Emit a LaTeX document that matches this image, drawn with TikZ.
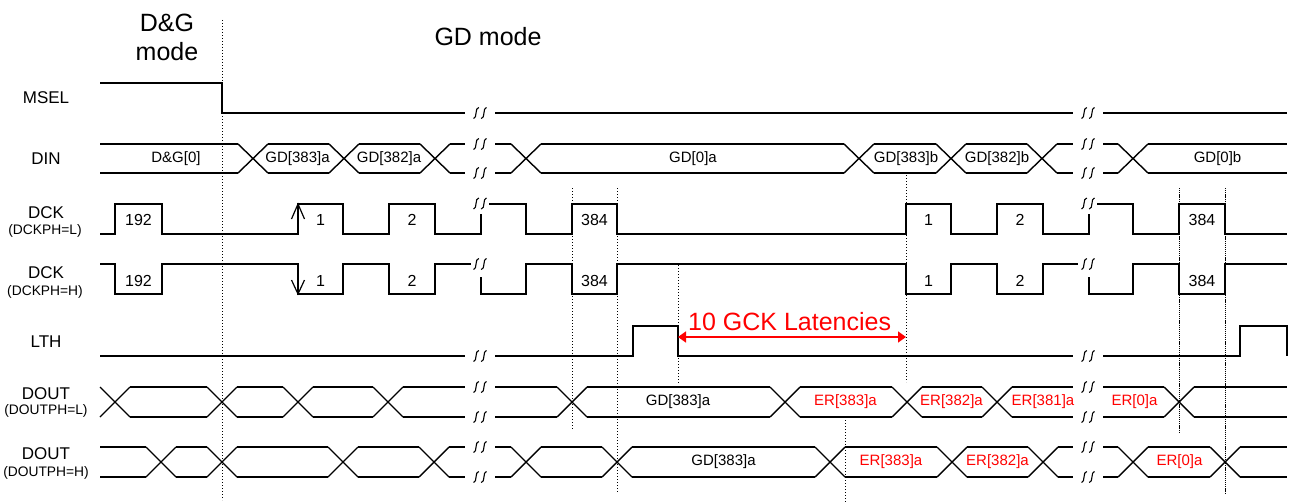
\documentclass[tikz,border=0pt]{standalone}
\usepackage{fontspec}
\setmainfont{Liberation Sans}
\usetikzlibrary{arrows.meta}
\newcommand\fsz[1]{\fontsize{#1}{#1}\selectfont}
\tikzset{
  sig/.style={line width=1.4pt, line join=miter},
  sqs/.style={line width=1.1pt},
  vdot/.style={line width=0.9pt, dash pattern=on 0.9pt off 2.1pt},
  vdense/.style={line width=0.9pt, dash pattern=on 1.2pt off 0.9pt},
  lbl/.style={font=\fsz{17}, inner sep=0pt},
  sub/.style={font=\fsz{13.8}, inner sep=0pt},
  dat/.style={font=\fsz{15}, inner sep=0pt},
  num/.style={font=\fsz{16}, inner sep=0pt},
  ertxt/.style={font=\fsz{15}, inner sep=0pt, text=red},
  big/.style={font=\fsz{25}, inner sep=0pt},
  brk/.pic={
    \draw[sqs] (-6.5,5.5) .. controls (-2.5,5.5) and (-5.5,-5.5) .. (-1.2,-5.5);
    \draw[sqs] (1.2,5.5) .. controls (5.5,5.5) and (2.5,-5.5) .. (6.5,-5.5);
  }
}
\begin{document}
\begin{tikzpicture}[x=1pt,y=-1pt]
\useasboundingbox (0,0) rectangle (1290,503);
\fill[white] (0,0) rectangle (1290,503);

% ---- headings
\node[big, anchor=base] (hdg1) at (167,32) {D\&G};
\node[big, anchor=base] (hdg2) at (167,60) {mode};
\node[big, anchor=base] (hgd) at (488,46) {GD mode};

% ---- row labels
\node[lbl] (lmsel) at (46,98) {MSEL};
\node[lbl] (ldin) at (46,158.5) {DIN};
\node[lbl] (ldck1) at (46,212.5) {DCK};
\node[sub] (ldck1s) at (45,231) {(DCKPH=L)};
\node[lbl] (ldck2) at (46,273) {DCK};
\node[sub] (ldck2s) at (45,292) {(DCKPH=H)};
\node[lbl] (llth) at (46,341.5) {LTH};
\node[lbl] (ldo1) at (46,394) {DOUT};
\node[sub] (ldo1s) at (46,411) {(DOUTPH=L)};
\node[lbl] (ldo2) at (46,454) {DOUT};
\node[sub] (ldo2s) at (46,473) {(DOUTPH=H)};

% ---- dotted verticals
\draw[vdot] (222,20) -- (222,500);
\draw[vdot] (572,188) -- (572,430);
\draw[vdot] (617,188) -- (617,492);
\draw[vdot] (678,265) -- (678,383);
\draw[vdot] (906,175) -- (906,382);
\draw[vdot] (845,417) -- (845,503);
\draw[vdense] (1179,188) -- (1179,432);
\draw[vdense] (1225,188) -- (1225,493);

% ---- MSEL
\draw[sig] (100,83) -- (222,83) -- (222,113) -- (465,113);
\draw[sig] (495,113) -- (1073,113);
\draw[sig] (1103,113) -- (1287,113);
\pic at (480,113) {brk};
\pic at (1088,113) {brk};

% ---- DIN
\foreach \c in {253,344,435,526,859,951,1042,1133}
  {\draw[sig] ({\c-15},144) -- ({\c+15},173) ({\c-15},173) -- ({\c+15},144);}
\foreach \a/\b in {100/238,268/329,359/420,450/465,495/511,541/844,874/936,966/1027,1057/1073,1103/1118,1148/1287}
  {\draw[sig] (\a,144) -- (\b,144) (\a,173) -- (\b,173);}
\foreach \c in {480,1088} {\pic at (\c,144) {brk}; \pic at (\c,173) {brk};}
\node[dat] (d1) at (176,158.5) {D\&G[0]};
\node[dat] (d2) at (297.5,158.5) {GD[383]a};
\node[dat] (d3) at (389,158.5) {GD[382]a};
\node[dat] (d4) at (693,158.5) {GD[0]a};
\node[dat] (d5) at (906,158.5) {GD[383]b};
\node[dat] (d6) at (997,158.5) {GD[382]b};
\node[dat] (d7) at (1217.5,158.5) {GD[0]b};

% ---- DCK (DCKPH=L)
\draw[sig] (100,234) -- (115,234) -- (115,204) -- (162,204) -- (162,234) -- (298,234) -- (298,204) -- (343,204) -- (343,234) -- (389,234) -- (389,204) -- (435,204) -- (435,234) -- (481,234) -- (481,214);
\draw[sig] (489,204) -- (526,204) -- (526,234) -- (572,234) -- (572,204) -- (617,204) -- (617,234) -- (906,234) -- (906,204) -- (951,204) -- (951,234) -- (997,234) -- (997,204) -- (1043,204) -- (1043,234) -- (1089,234) -- (1089,214);
\draw[sig] (1097,204) -- (1133,204) -- (1133,234) -- (1179,234) -- (1179,204) -- (1225,204) -- (1225,234) -- (1287,234);
\pic at (480,203.5) {brk};
\pic at (1088,203.5) {brk};
\draw[sig, line width=1.2pt] (291.5,219) -- (298,204) -- (304.5,219);
\node[num] (c1) at (138.5,220) {192};
\node[num] (c2) at (320.5,220) {1};
\node[num] (c3) at (412,220) {2};
\node[num] (c4) at (594.5,220) {384};
\node[num] (c5) at (928.5,220) {1};
\node[num] (c6) at (1020,220) {2};
\node[num] (c7) at (1202,220) {384};

% ---- DCK (DCKPH=H)
\draw[sig] (100,264) -- (115,264) -- (115,294) -- (162,294) -- (162,264) -- (298,264) -- (298,294) -- (343,294) -- (343,264) -- (389,264) -- (389,294) -- (435,294) -- (435,264) -- (471,264);
\draw[sig] (481,277) -- (481,294) -- (526,294) -- (526,264) -- (572,264) -- (572,294) -- (617,294) -- (617,264) -- (906,264) -- (906,294) -- (951,294) -- (951,264) -- (997,264) -- (997,294) -- (1043,294) -- (1043,264) -- (1078,264);
\draw[sig] (1089,277) -- (1089,294) -- (1133,294) -- (1133,264) -- (1179,264) -- (1179,294) -- (1225,294) -- (1225,264) -- (1287,264);
\pic at (480,264) {brk};
\pic at (1088,264) {brk};
\draw[sig, line width=1.2pt] (291.5,280) -- (298,294) -- (304.5,280);
\node[num] (e1) at (138.5,280.5) {192};
\node[num] (e2) at (320.5,280.5) {1};
\node[num] (e3) at (412,280.5) {2};
\node[num] (e4) at (594.5,280.5) {384};
\node[num] (e5) at (928.5,280.5) {1};
\node[num] (e6) at (1020,280.5) {2};
\node[num] (e7) at (1202,280.5) {384};

% ---- LTH
\draw[sig] (100,356) -- (465,356);
\draw[sig] (495,356) -- (633,356) -- (633,326) -- (678,326) -- (678,356) -- (1073,356);
\draw[sig] (1103,356) -- (1240,356) -- (1240,326) -- (1287,326) -- (1287,356);
\pic at (480,356) {brk};
\pic at (1088,356) {brk};

% ---- latency arrow
\coordinate (lata) at (678,337);
\coordinate (latb) at (906,337);
\draw[red, line width=1.5pt, {Triangle[length=8pt,width=11pt]}-{Triangle[length=8pt,width=11pt]}] (lata) -- (latb);
\node[font=\fsz{25}, text=red, inner sep=0pt, anchor=base west] (lattxt) at (688,330) {10 GCK Latencies};

% ---- DOUT (DOUTPH=L)
\foreach \c in {115,222,298,388,572,785,907,997,1179}
  {\draw[sig] ({\c-15},387) -- ({\c+15},417) ({\c-15},417) -- ({\c+15},387);}
\foreach \a/\b in {130/207,237/283,313/373,403/465,495/557,587/770,800/892,922/982,1012/1073,1103/1164,1194/1287}
  {\draw[sig] (\a,387) -- (\b,387) (\a,417) -- (\b,417);}
\foreach \c in {480,1088} {\pic at (\c,387) {brk}; \pic at (\c,417) {brk};}
\node[dat] (o1) at (678,402) {GD[383]a};
\node[ertxt] (o2) at (845.5,402) {ER[383]a};
\node[ertxt] (o3) at (951.5,402) {ER[382]a};
\node[ertxt] (o4) at (1043,402) {ER[381]a};
\node[ertxt] (o5) at (1134.5,402) {ER[0]a};

% ---- DOUT (DOUTPH=H)
\foreach \c in {161,222,343,434,526,617,830,952,1043,1133,1225}
  {\draw[sig] ({\c-15},447) -- ({\c+15},477) ({\c-15},477) -- ({\c+15},447);}
\foreach \a/\b in {100/146,176/207,237/328,358/419,449/465,495/511,541/602,632/815,845/937,967/1028,1058/1073,1103/1118,1148/1210,1240/1287}
  {\draw[sig] (\a,447) -- (\b,447) (\a,477) -- (\b,477);}
\foreach \c in {480,1088} {\pic at (\c,447) {brk}; \pic at (\c,477) {brk};}
\node[dat] (p1) at (723.5,462) {GD[383]a};
\node[ertxt] (p2) at (891,462) {ER[383]a};
\node[ertxt] (p3) at (997.5,462) {ER[382]a};
\node[ertxt] (p4) at (1179.5,462) {ER[0]a};
\end{tikzpicture}
\end{document}
